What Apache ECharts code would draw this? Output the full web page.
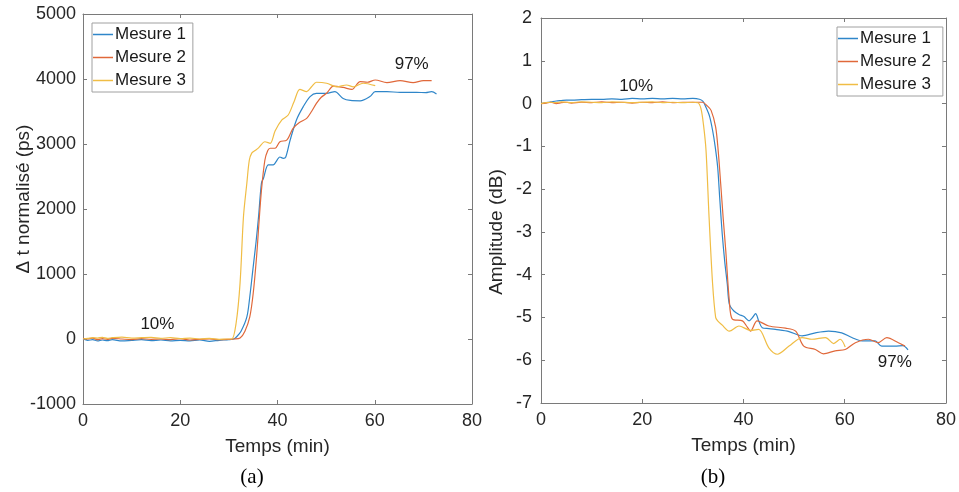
<!DOCTYPE html>
<html>
<head>
<meta charset="utf-8">
<script src="https://cdn.jsdelivr.net/npm/echarts@6/dist/echarts.min.js"></script>
<style>
html,body{margin:0;padding:0;background:#fff;}
#c{width:959px;height:492px;}
</style>
</head>
<body>
<div id="c"></div>
<script>
// ---------- data ----------
var seriesNames = ['Mesure 1', 'Mesure 2', 'Mesure 3'];
var xTicks = [0, 20, 40, 60, 80];
var yTicksA = [-1000, 0, 1000, 2000, 3000, 4000, 5000];
var yTicksB = [-7, -6, -5, -4, -3, -2, -1, 0, 1, 2];

// (a) Δt normalisé (ps)
var tA1 = [0,1,2,3,4,5,6,8,10,12,14,16,18,20,22,24,26,28,30,31,31.6,32.5,33.7,34.3,35.0,35.6,36.1,36.7,37.1,38.1,39.1,40.5,41.2,41.7,42.6,43.9,45.3,46.7,48.0,50.1,51.8,53.5,55.0,57.0,59.0,60.1,62.5,65.2,68.6,70.5,71.7,72.7];
var vA1 = [0,-20,-10,-30,-15,-25,-10,-30,-20,-10,-25,-15,-30,-20,-30,-15,-35,-20,-10,0,35,120,340,650,1110,1500,1880,2400,2470,2680,2680,2800,2780,2800,3060,3370,3575,3730,3780,3780,3805,3700,3670,3665,3730,3805,3805,3795,3795,3790,3805,3770];
var tA2 = [0,1,2,3,4,5,6,8,10,12,14,16,18,20,22,24,26,28,30,31,32.3,33.3,34.3,35.0,35.7,36.2,36.7,37.4,38.0,38.5,39.5,40.5,41.9,43.2,44.5,46.0,47.0,48.0,49.0,50.1,51.5,53.5,55.3,57.0,58.5,60.1,62.5,65.2,67.9,70.0,71.7];
var vA2 = [10,0,15,-10,5,-5,10,0,-10,5,-5,0,-10,5,-15,-5,0,-10,-5,0,15,120,340,700,1270,1800,2290,2750,2900,2935,2935,3035,3060,3240,3330,3395,3500,3625,3720,3780,3890,3870,3840,3960,3950,3985,3945,3975,3945,3975,3975];
var tA3 = [0,1,2,3,4,5,6,8,10,12,14,16,18,20,22,24,26,28,29.5,30.6,31.5,32.3,33.0,33.7,34.2,34.7,35.4,36.1,37.4,38.5,39.5,40.9,42.2,43.4,44.6,46.0,47.0,48.0,50.1,52.2,54.2,55.6,57.6,60.1];
var vA3 = [0,10,20,15,25,10,20,30,15,20,25,10,20,5,15,0,10,-5,0,0,250,860,1880,2400,2750,2860,2900,2940,3035,3010,3200,3370,3446,3650,3840,3805,3880,3950,3935,3880,3908,3880,3935,3897];

// (b) Amplitude (dB)
var tB1 = [0,1,2,3,4,5,6,8,10,12,14,16,18,20,22,24,26,28,30,31.3,32.0,32.6,33.3,33.9,34.4,34.9,35.3,35.8,36.3,36.8,37.2,38.1,39.1,40.1,41.1,41.8,42.4,43.0,43.7,45.0,46.3,49.0,51.6,54.2,56.8,59.4,61.4,63.4,66.0,67.3,69.9,71.5,72.5];
var vB1 = [0,0.02,0.04,0.06,0.07,0.08,0.08,0.09,0.1,0.1,0.11,0.1,0.12,0.11,0.12,0.11,0.12,0.11,0.12,0.1,0.05,-0.09,-0.3,-0.63,-1.0,-1.49,-2.2,-3.05,-3.7,-4.22,-4.69,-4.85,-4.93,-4.98,-5.08,-5.0,-4.91,-5.08,-5.24,-5.26,-5.28,-5.33,-5.43,-5.36,-5.32,-5.36,-5.47,-5.55,-5.55,-5.67,-5.67,-5.66,-5.76];
var tB2 = [0,1,2,3,4,5,6,8,10,12,14,16,18,20,22,24,26,28,30,31.9,32.8,33.6,34.5,35.0,35.5,36.0,36.5,37.2,37.8,39.8,40.6,41.4,42.7,45.0,48.3,50.3,51.9,54.2,55.8,58.1,60.1,62.1,64.7,66.6,68.3,70.6,71.9];
var vB2 = [0,0.01,0.03,0.0,0.02,0.03,0.01,0.03,0.02,0.04,0.02,0.03,0.01,0.03,0.02,0.04,0.02,0.03,0.03,0.03,-0.05,-0.16,-0.55,-1.1,-1.88,-2.7,-3.44,-4.61,-5.04,-5.08,-5.2,-5.32,-5.08,-5.2,-5.25,-5.32,-5.67,-5.75,-5.85,-5.78,-5.75,-5.59,-5.51,-5.59,-5.47,-5.59,-5.67];
var tB3 = [0,1,2,3,4,5,6,8,10,12,14,16,18,20,22,24,26,28,30,31.0,31.6,32.1,32.6,33.2,33.9,34.5,34.9,35.8,37.2,39.1,41.4,43.0,45.0,46.7,49.0,51.6,53.5,56.2,57.8,59.1,60.1];
var vB3 = [0,0.02,0.03,0.02,0.04,0.03,0.02,0.04,0.03,0.02,0.04,0.03,0.02,0.03,0.04,0.02,0.03,0.02,0.03,0.02,-0.12,-0.5,-1.1,-2.66,-4.22,-5.0,-5.08,-5.18,-5.32,-5.2,-5.3,-5.28,-5.71,-5.86,-5.67,-5.47,-5.51,-5.47,-5.61,-5.51,-5.69];

// annotations: [x, y, text]
var notesA = [[15.3, 230, '10%'], [67.6, 4230, '97%']];
var notesB = [[18.8, 0.40, '10%'], [69.9, -6.04, '97%']];

// ---------- chart ----------
var colors = ['#2f86c9', '#e0683a', '#f0bd45'];
var FONT = 'Liberation Sans, Arial, sans-serif';
var TXT = '#262626';
function zip(t, v) { return t.map(function (x, i) { return [x, v[i]]; }); }

var axisLine = { show: true, onZero: false, lineStyle: { color: '#7a7a7a', width: 1 } };
function xAx(grid, pos) {
  return {
    type: 'value', gridIndex: grid, position: pos, min: 0, max: 80, interval: 20,
    axisLine: axisLine, splitLine: { show: false },
    axisTick: { show: true, inside: true, length: 4, lineStyle: { color: '#7a7a7a' } },
    axisLabel: { show: pos === 'bottom', margin: 8, color: TXT, fontSize: 18, fontFamily: FONT,
      formatter: function (v) { return xTicks.indexOf(v) >= 0 ? String(v) : ''; } },
    name: pos === 'bottom' ? 'Temps (min)' : '', nameLocation: 'middle', nameGap: 33,
    nameTextStyle: { color: TXT, fontSize: 19, fontFamily: FONT }
  };
}
function yAx(grid, pos, min, max, iv, ticks, margin) {
  return {
    type: 'value', gridIndex: grid, position: pos, min: min, max: max, interval: iv,
    axisLine: axisLine, splitLine: { show: false },
    axisTick: { show: true, inside: true, length: 4, lineStyle: { color: '#7a7a7a' } },
    axisLabel: { show: pos === 'left', margin: margin, color: TXT, fontSize: 18, fontFamily: FONT,
      formatter: function (v) { return ticks.indexOf(v) >= 0 ? String(v) : ''; } }
  };
}
function lineSeries(name, data, xi, yi, color) {
  return { name: name, type: 'line', xAxisIndex: xi, yAxisIndex: yi, data: data,
    showSymbol: false, symbol: 'none', smooth: 0.3, lineStyle: { color: color, width: 1.2 },
    itemStyle: { color: color }, z: 3, animation: false };
}
function noteSeries(notes, xi, yi) {
  return { type: 'scatter', xAxisIndex: xi, yAxisIndex: yi, symbolSize: 0, silent: true, animation: false,
    itemStyle: { opacity: 1 },
    data: notes.map(function (n) { return { value: [n[0], n[1]], label: { formatter: n[2] } }; }),
    label: { show: true, position: 'inside', color: '#1a1a1a', opacity: 1, fontSize: 17, fontFamily: FONT } };
}

var legendBase = {
  data: seriesNames, orient: 'vertical', icon: 'rect', itemWidth: 20, itemHeight: 1.5, itemGap: 6,
  backgroundColor: '#fff', borderColor: '#a0a0a0', borderWidth: 1, borderRadius: 0,
  textStyle: { color: '#1a1a1a', fontSize: 17, fontFamily: FONT, padding: [0, 0, 0, -3] },
  selectedMode: false
};

var option = {
  animation: false,
  color: colors,
  grid: [
    { left: 83, right: 487, top: 14, bottom: 88 },
    { left: 541, right: 11, top: 18, bottom: 89 }
  ],
  xAxis: [xAx(0, 'bottom'), xAx(0, 'top'), xAx(1, 'bottom'), xAx(1, 'top')],
  yAxis: [
    yAx(0, 'left', -1000, 5000, 1000, yTicksA, 7), yAx(0, 'right', -1000, 5000, 1000, yTicksA, 7),
    yAx(1, 'left', -7, 2, 1, yTicksB, 9), yAx(1, 'right', -7, 2, 1, yTicksB, 9)
  ],
  legend: [
    Object.assign({}, legendBase, { left: 92, top: 23, padding: [3, 7, 3, 1] }),
    Object.assign({}, legendBase, { left: 837, top: 27, padding: [3, 12, 3, 1] })
  ],
  series: [
    lineSeries('Mesure 1', zip(tA1, vA1), 0, 0, colors[0]),
    lineSeries('Mesure 2', zip(tA2, vA2), 0, 0, colors[1]),
    lineSeries('Mesure 3', zip(tA3, vA3), 0, 0, colors[2]),
    lineSeries('Mesure 1', zip(tB1, vB1), 2, 2, colors[0]),
    lineSeries('Mesure 2', zip(tB2, vB2), 2, 2, colors[1]),
    lineSeries('Mesure 3', zip(tB3, vB3), 2, 2, colors[2]),
    noteSeries(notesA, 0, 0),
    noteSeries(notesB, 2, 2)
  ],
  graphic: [
    { type: 'text', style: { text: 'Δ t normalisé (ps)', fill: TXT, font: '19px ' + FONT,
      x: 0, y: 0, align: 'center', verticalAlign: 'middle' }, x: 24, y: 199, rotation: Math.PI / 2 },
    { type: 'text', style: { text: 'Amplitude (dB)', fill: TXT, font: '19px ' + FONT,
      x: 0, y: 0, align: 'center', verticalAlign: 'middle' }, x: 497, y: 232, rotation: Math.PI / 2 },
    { type: 'text', style: { text: '(a)', fill: '#000', font: '21px Liberation Serif, Times New Roman, serif',
      x: 0, y: 0, align: 'center', verticalAlign: 'middle' }, x: 252, y: 477 },
    { type: 'text', style: { text: '(b)', fill: '#000', font: '21px Liberation Serif, Times New Roman, serif',
      x: 0, y: 0, align: 'center', verticalAlign: 'middle' }, x: 713, y: 477 }
  ]
};

var chart = echarts.init(document.getElementById('c'), null, { renderer: 'canvas' });
chart.setOption(option);
</script>
</body>
</html>
